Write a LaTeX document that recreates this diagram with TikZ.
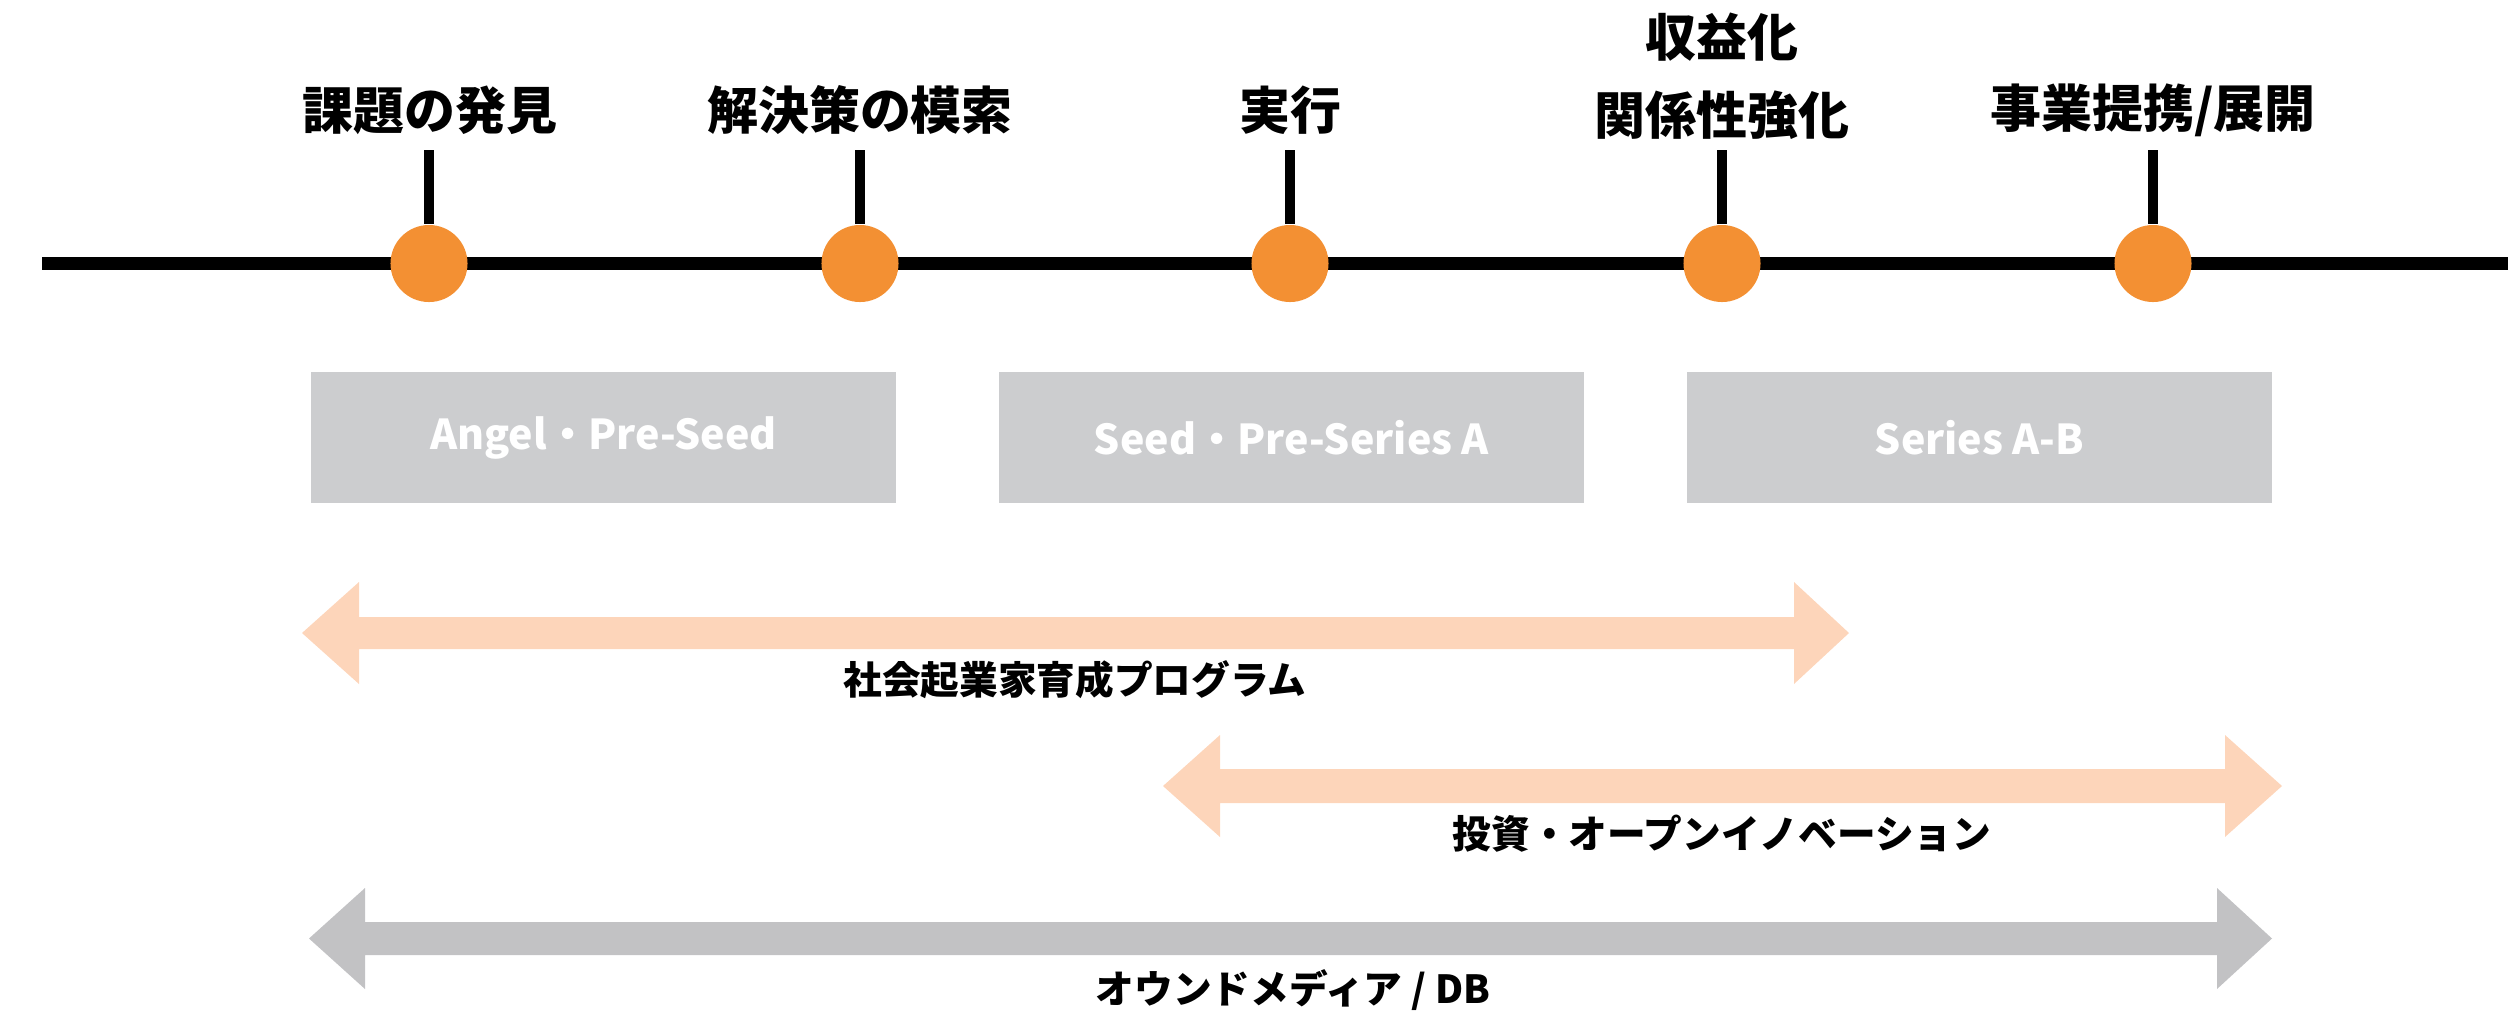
\documentclass[tikz,border=0pt]{standalone}
\usepackage{fontspec}
\newfontfamily\jp{Noto Sans CJK JP}
\definecolor{dotorange}{HTML}{F39033}
\definecolor{peach}{HTML}{FDD5BA}
\definecolor{boxgray}{HTML}{CCCDCF}
\definecolor{arrgray}{HTML}{C2C2C4}
\begin{document}
\begin{tikzpicture}[x=0.01cm,y=-0.01cm,
  dot/.style={circle,fill=dotorange,minimum size=0.77cm,inner sep=0pt},
  stem/.style={line width=0.1cm,black},
  phase/.style={font=\jp\bfseries\fontsize{14.5}{22.2}\selectfont,align=center,inner sep=0pt},
  stagebox/.style={fill=boxgray,minimum width=5.85cm,minimum height=1.31cm,inner sep=0pt,
    text=white,font=\jp\bfseries\fontsize{11.7}{14}\selectfont},
  arrlabel/.style={font=\jp\bfseries\fontsize{11}{13}\selectfont,inner sep=0pt}]
\useasboundingbox (0,0) rectangle (2508,1011);
% timeline
\coordinate (tlL) at (42,263.5);
\coordinate (tlR) at (2508,263.5);
\draw[line width=0.13cm,black] (tlL) -- (tlR);
% milestones
\foreach \i/\x in {1/429,2/860,3/1290,4/1722,5/2153}{
  \coordinate (top\i) at (\x,150);
  \node[dot] (d\i) at (\x,263.5) {};
  \draw[stem] (top\i) -- (d\i.north);
}
\node[phase] (p1) at (430,110) {課題の発見};
\node[phase] (p2) at (860,110) {解決策の模索};
\node[phase] (p3) at (1290,110) {実行};
\node[phase,anchor=north] (p4) at (1722,12) {収益化\\関係性強化};
\node[phase] (p5) at (2153,110) {事業提携/展開};
% stage boxes
\node[stagebox] (b1) at (603.5,437.5) {Angel・Pre-Seed};
\node[stagebox] (b2) at (1291.5,437.5) {Seed・Pre-Series A};
\node[stagebox] (b3) at (1979.5,437.5) {Series A-B};
% arrows
\fill[peach] (302,633) -- (359,582) -- (359,617) -- (1794,617) -- (1794,582) -- (1849,633)
  -- (1794,684) -- (1794,649) -- (359,649) -- (359,684) -- cycle;
\node[arrlabel] (a1) at (1075,680) {社会起業家育成プログラム};
\fill[peach] (1163,786) -- (1220,735) -- (1220,769) -- (2225,769) -- (2225,735) -- (2282,786)
  -- (2225,837) -- (2225,803) -- (1220,803) -- (1220,837) -- cycle;
\node[arrlabel] (a2) at (1722,834) {投資・オープンイノベーション};
\fill[arrgray] (309,938.5) -- (365,888) -- (365,922) -- (2217,922) -- (2217,888) -- (2272,938.5)
  -- (2217,989) -- (2217,955) -- (365,955) -- (365,989) -- cycle;
\node[arrlabel] (a3) at (1293,990) {オウンドメディア / DB};
\end{tikzpicture}
\end{document}
